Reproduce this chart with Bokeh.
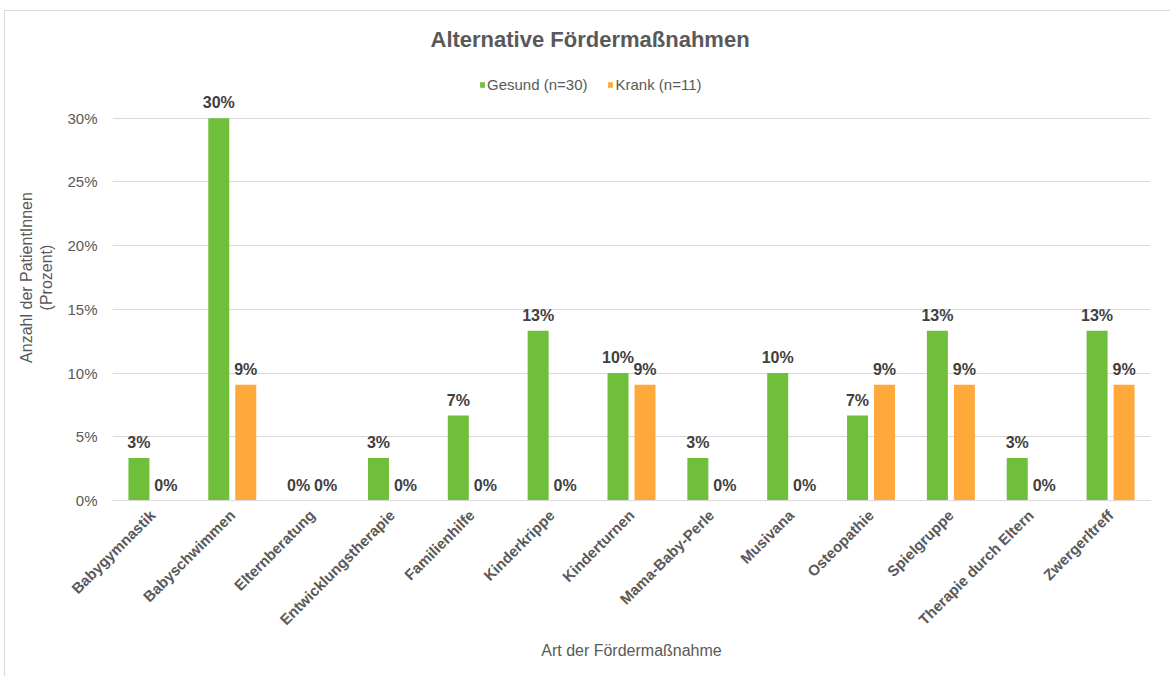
from bokeh.plotting import figure
from bokeh.models import ColumnDataSource, FactorRange, LabelSet, FixedTicker, PrintfTickFormatter, Legend, LegendItem
from bokeh.core.properties import value
from bokeh.transform import dodge
from bokeh.embed import file_html
from bokeh.resources import INLINE
from math import pi

categories = ["Babygymnastik", "Babyschwimmen", "Elternberatung", "Entwicklungstherapie",
              "Familienhilfe", "Kinderkrippe", "Kinderturnen", "Mama-Baby-Perle", "Musivana",
              "Osteopathie", "Spielgruppe", "Therapie durch Eltern", "Zwergerltreff"]
gesund = [3.33, 30.0, 0.0, 3.33, 6.67, 13.33, 10.0, 3.33, 10.0, 6.67, 13.33, 3.33, 13.33]
krank = [0.0, 9.09, 0.0, 0.0, 0.0, 0.0, 9.09, 0.0, 0.0, 9.09, 9.09, 0.0, 9.09]
series_names = ["Gesund (n=30)", "Krank (n=11)"]
y_ticks = [0, 5, 10, 15, 20, 25, 30]

GREEN = "#6fbf3a"
ORANGE = "#ffa93b"
FONT = "Liberation Sans"
GREY = "#595959"

src = ColumnDataSource(dict(
    cat=categories, gesund=gesund, krank=krank,
    gl=[f"{round(v)}%" for v in gesund],
    kl=[f"{round(v)}%" for v in krank],
))

p = figure(x_range=FactorRange(*categories), y_range=(0, 35),
           width=1166, height=666, output_backend="svg", toolbar_location=None,
           min_border_left=107, min_border_right=21, min_border_top=43, min_border_bottom=177)
p.styles = {"border-top": "1px solid #d9d9d9", "border-left": "1px solid #d9d9d9",
            "margin-left": "4px", "margin-top": "10px"}

p.title.text = "Alternative Fördermaßnahmen"
p.title.align = "left"
p.title.offset = 318
p.title.text_font = FONT
p.title.text_font_size = "22px"
p.title.text_font_style = "bold"
p.title.text_color = GREY
p.title.standoff = 6

off = 0.169
w = 0.263
r1 = p.vbar(x=dodge("cat", -off, range=p.x_range), top="gesund", width=w, source=src,
            fill_color=GREEN, line_color=None)
r2 = p.vbar(x=dodge("cat", off, range=p.x_range), top="krank", width=w, source=src,
            fill_color=ORANGE, line_color=None)

for col, lab, o in (("gesund", "gl", -off), ("krank", "kl", off)):
    p.add_layout(LabelSet(x=dodge("cat", o, range=p.x_range), y=col, text=lab, source=src,
                          y_offset=10, text_align="center", text_baseline="alphabetic",
                          text_font=value(FONT), text_font_size="16px", text_font_style="bold",
                          text_color="#404040"))

legend = Legend(items=[LegendItem(label=series_names[0], renderers=[r1]),
                       LegendItem(label=series_names[1], renderers=[r2])],
                orientation="horizontal", location=(367, 407),
                background_fill_alpha=0, border_line_color=None,
                label_text_font=FONT, label_text_font_size="15px", label_text_color=GREY,
                glyph_width=6, glyph_height=7, label_standoff=2, spacing=20,
                padding=0, margin=0, label_height=15)
p.add_layout(legend)

p.outline_line_color = None
p.xgrid.grid_line_color = None
p.ygrid.grid_line_color = "#d9d9d9"
p.ygrid.ticker = FixedTicker(ticks=y_ticks)

p.yaxis.ticker = FixedTicker(ticks=y_ticks)
p.yaxis.formatter = PrintfTickFormatter(format="%d%%")
p.yaxis.axis_line_color = None
p.yaxis.major_tick_line_color = None
p.yaxis.minor_tick_line_color = None
p.yaxis.major_label_standoff = 9
p.yaxis.major_label_text_font = FONT
p.yaxis.major_label_text_font_size = "15px"
p.yaxis.major_label_text_color = GREY
p.yaxis.axis_label = "Anzahl der PatientInnen\n(Prozent)"
p.yaxis.axis_label_text_font = FONT
p.yaxis.axis_label_text_font_size = "16px"
p.yaxis.axis_label_text_font_style = "normal"
p.yaxis.axis_label_text_color = GREY
p.yaxis.axis_label_standoff = 9

p.xaxis.axis_line_color = "#d9d9d9"
p.xaxis.major_tick_line_color = None
p.xaxis.minor_tick_line_color = None
p.xaxis.major_label_orientation = pi / 4
p.xaxis.major_label_standoff = 6
p.xaxis.major_label_text_font = FONT
p.xaxis.major_label_text_font_size = "15px"
p.xaxis.major_label_text_font_style = "bold"
p.xaxis.major_label_text_color = GREY
p.xaxis.axis_label = "Art der Fördermaßnahme"
p.xaxis.axis_label_text_font = FONT
p.xaxis.axis_label_text_font_size = "16px"
p.xaxis.axis_label_text_font_style = "normal"
p.xaxis.axis_label_text_color = GREY
p.xaxis.axis_label_standoff = 5

open("out.html", "w").write(file_html(p, INLINE))
